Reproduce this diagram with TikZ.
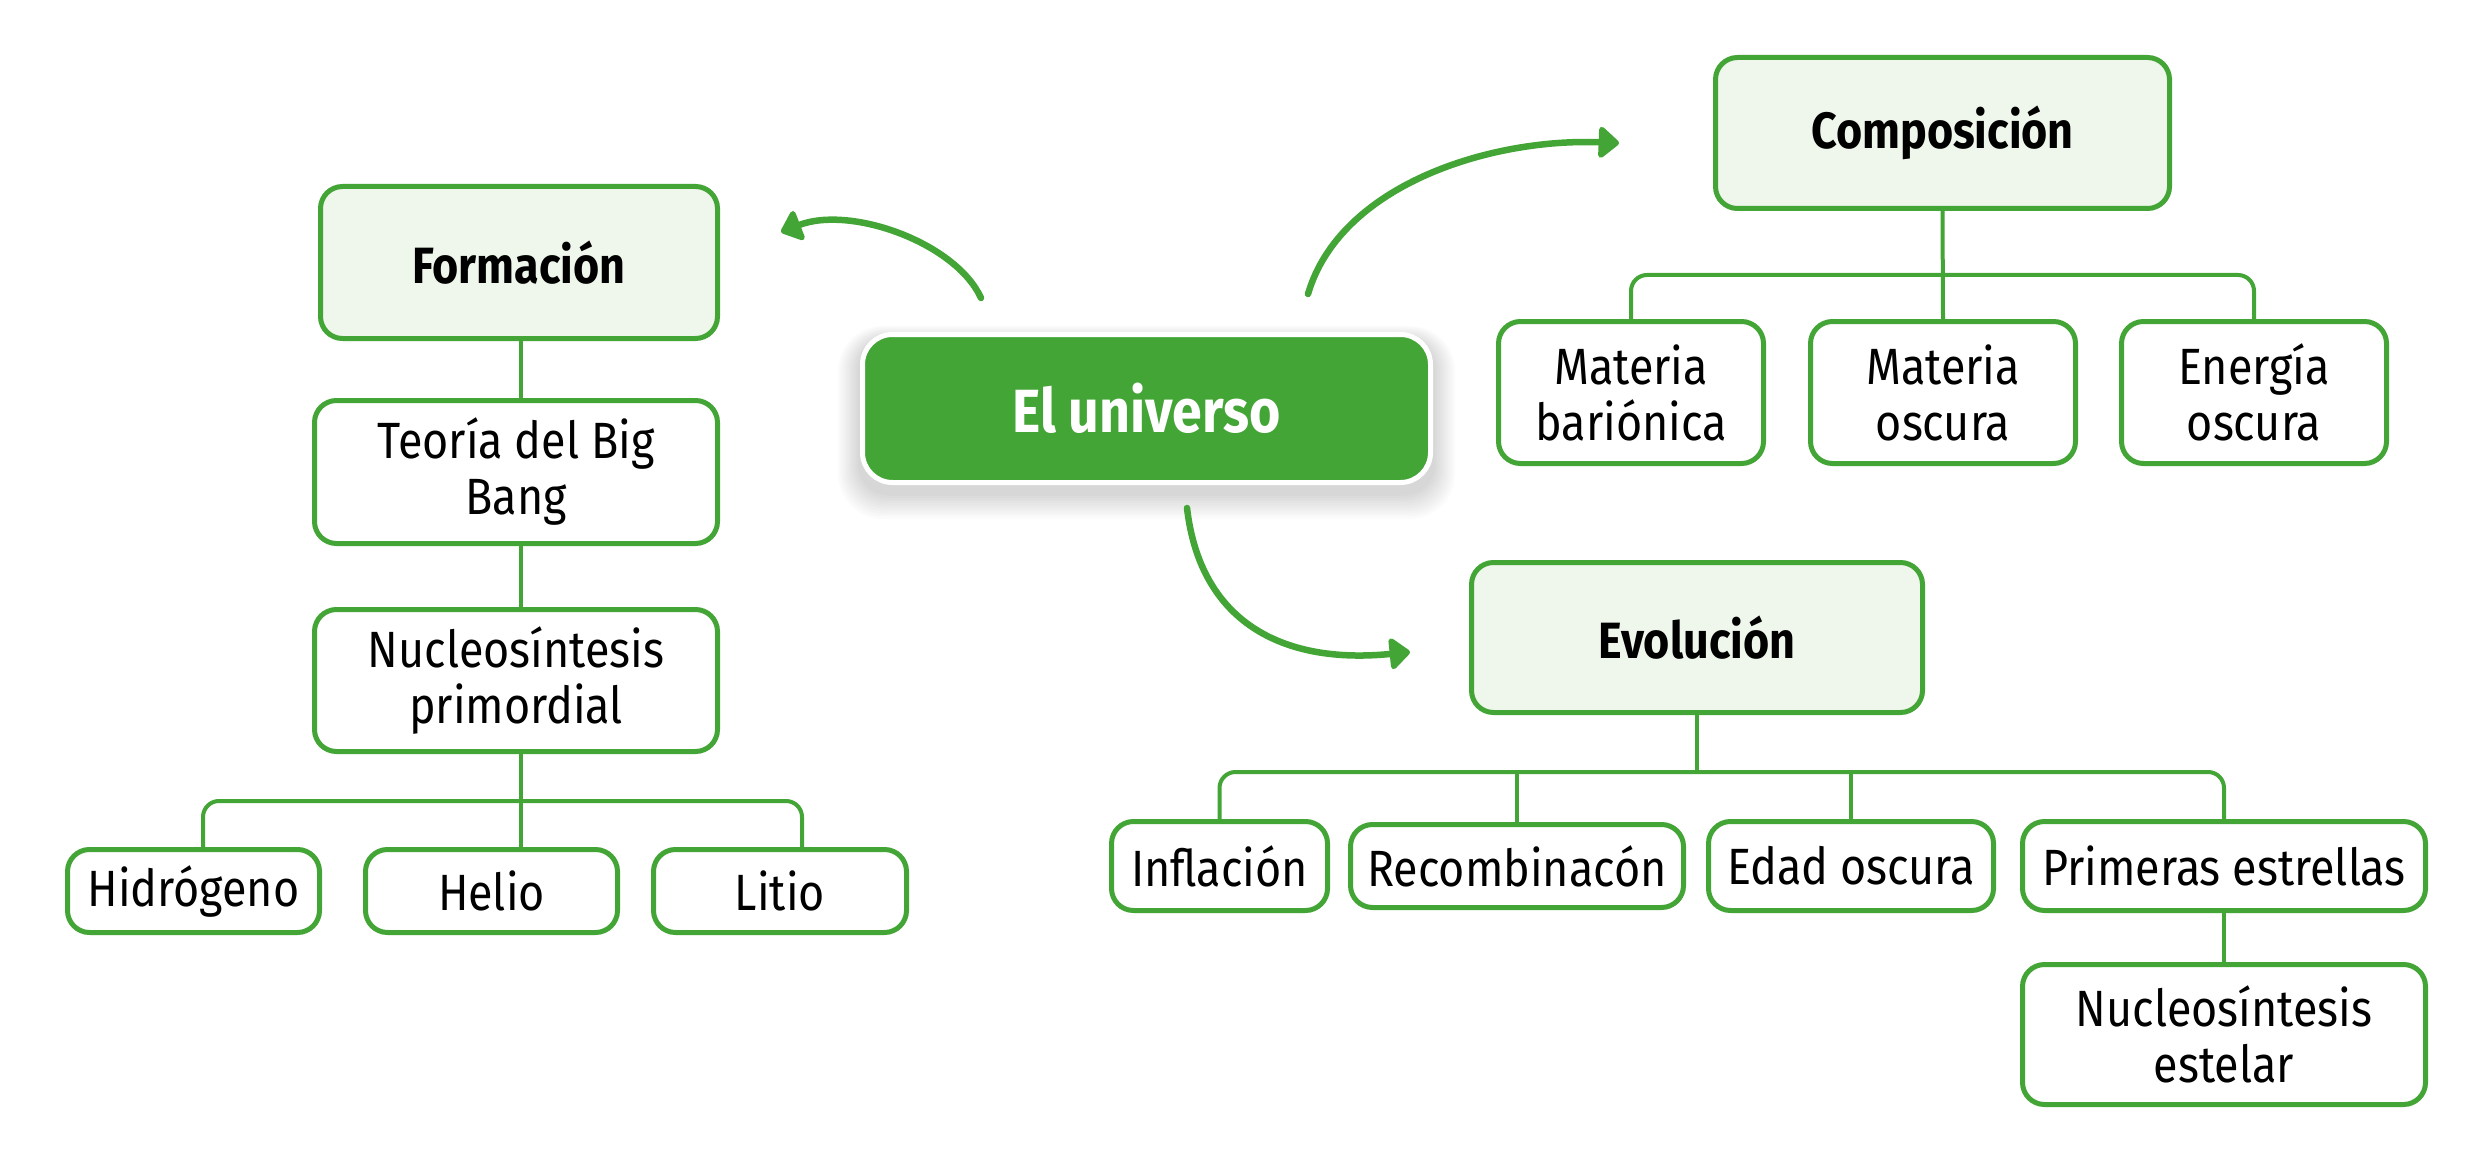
\documentclass[tikz,border=0pt]{standalone}
\usepackage{fontspec}
\setmainfont{Fira Sans}[FakeStretch=0.88]
\usetikzlibrary{arrows.meta}
\definecolor{gr}{HTML}{44A537}
\definecolor{lgr}{HTML}{EFF6EB}
\begin{document}
\begin{tikzpicture}[x=1pt,y=-1pt,
  box/.style={draw=gr, line width=5pt, rounded corners=22pt, fill=white, align=center, inner sep=0pt, font=\fontsize{51}{56}\selectfont},
  head/.style={box, fill=lgr, font=\fontsize{51}{56}\selectfont\bfseries},
  conn/.style={draw=gr, line width=4pt},
  arr/.style={draw=gr, line width=6.5pt, line cap=round, -{Triangle[round, length=22pt, width=36pt]}}
]
\useasboundingbox[fill=white] (0,0) rectangle (2489,1166);

% shadow of the central node
\foreach \i in {1,...,10}{
  \fill[black, opacity=0.014, rounded corners={30pt+\i*1.5pt}]
    ({860-\i*2.2},{332-\i*1.4+8}) rectangle ({1433+\i*2.2},{485+\i*2.6+8});
}

% central node
\node[draw=white, line width=5pt, fill=gr, rounded corners=30pt, minimum width=568pt, minimum height=148pt, inner sep=0pt, text=white, font=\fontsize{61}{66}\selectfont\bfseries] (universo) at (1146.5,408.5) {El universo};

% Formacion branch
\node[head, minimum width=397pt, minimum height=152pt] (formacion) at (519,262.5) {Formación};
\node[box, minimum width=403pt, minimum height=143pt] (teoria) at (516,472) {Teoría del Big\\Bang};
\node[box, minimum width=403pt, minimum height=142pt] (nucprim) at (516,680.5) {Nucleosíntesis\\primordial};
\node[box, minimum width=252pt, minimum height=83pt] (hidro) at (193.5,891) {Hidrógeno};
\node[box, minimum width=252pt, minimum height=83pt] (helio) at (491.5,891) {Helio};
\node[box, minimum width=253pt, minimum height=83pt] (litio) at (780,891) {Litio};

\draw[conn] (formacion.south -| 521,0) -- (teoria.north -| 521,0);
\draw[conn] (teoria.south -| 521,0) -- (nucprim.north -| 521,0);
\draw[conn] (nucprim.south -| 521,0) -- (helio.north -| 521,0);
\coordinate (fb) at (0,801);
\draw[conn, rounded corners=16pt] (hidro.north -| 203,0) |- (fb -| 802,0) -- (litio.north -| 802,0);

% Composicion branch
\node[head, minimum width=454pt, minimum height=151pt] (compos) at (1942.5,133) {Composición};
\node[box, minimum width=265pt, minimum height=142pt] (matbar) at (1631,392.5) {Materia\\bariónica};
\node[box, minimum width=265pt, minimum height=142pt] (matosc) at (1943,392.5) {Materia\\oscura};
\node[box, minimum width=265pt, minimum height=142pt] (energia) at (2254,392.5) {Energía\\oscura};
\coordinate (cb) at (0,275);
\draw[conn] (compos.south) -- (matosc.north);
\draw[conn, rounded corners=16pt] (matbar.north) |- (cb -| energia.north) -- (energia.north);

% Evolucion branch
\node[head, minimum width=451pt, minimum height=150pt] (evol) at (1697,637.5) {Evolución};
\node[box, minimum width=216pt, minimum height=89pt] (inflacion) at (1219.5,866) {Inflación};
\node[box, minimum width=333pt, minimum height=83pt] (recomb) at (1517,866) {Recombinacón};
\node[box, minimum width=285pt, minimum height=89pt] (edad) at (1851,866) {Edad oscura};
\node[box, minimum width=403pt, minimum height=89pt] (primeras) at (2224,866) {Primeras estrellas};
\node[box, minimum width=403pt, minimum height=140pt] (nucest) at (2224,1034.5) {Nucleosíntesis\\estelar};
\coordinate (eb) at (0,772);
\draw[conn] (evol.south) -- (evol.south |- eb);
\draw[conn, rounded corners=16pt] (inflacion.north) |- (eb -| primeras.north) -- (primeras.north);
\draw[conn] (recomb.north |- eb) -- (recomb.north);
\draw[conn] (edad.north |- eb) -- (edad.north);
\draw[conn] (primeras.south) -- (nucest.north);

% curved arrows
\coordinate (a1s) at (981,298);
\coordinate (a1e) at (781,232);
\coordinate (a2s) at (1308,294);
\coordinate (a2e) at (1619,143);
\coordinate (a3s) at (1187,508);
\coordinate (a3e) at (1410,652);
\draw[arr] (a1s) .. controls (956,243) and (851,205) .. (a1e);
\draw[arr] (a2s) .. controls (1340,185) and (1490,138) .. (a2e);
\draw[arr] (a3s) .. controls (1200,620) and (1280,665) .. (a3e);
\end{tikzpicture}
\end{document}
